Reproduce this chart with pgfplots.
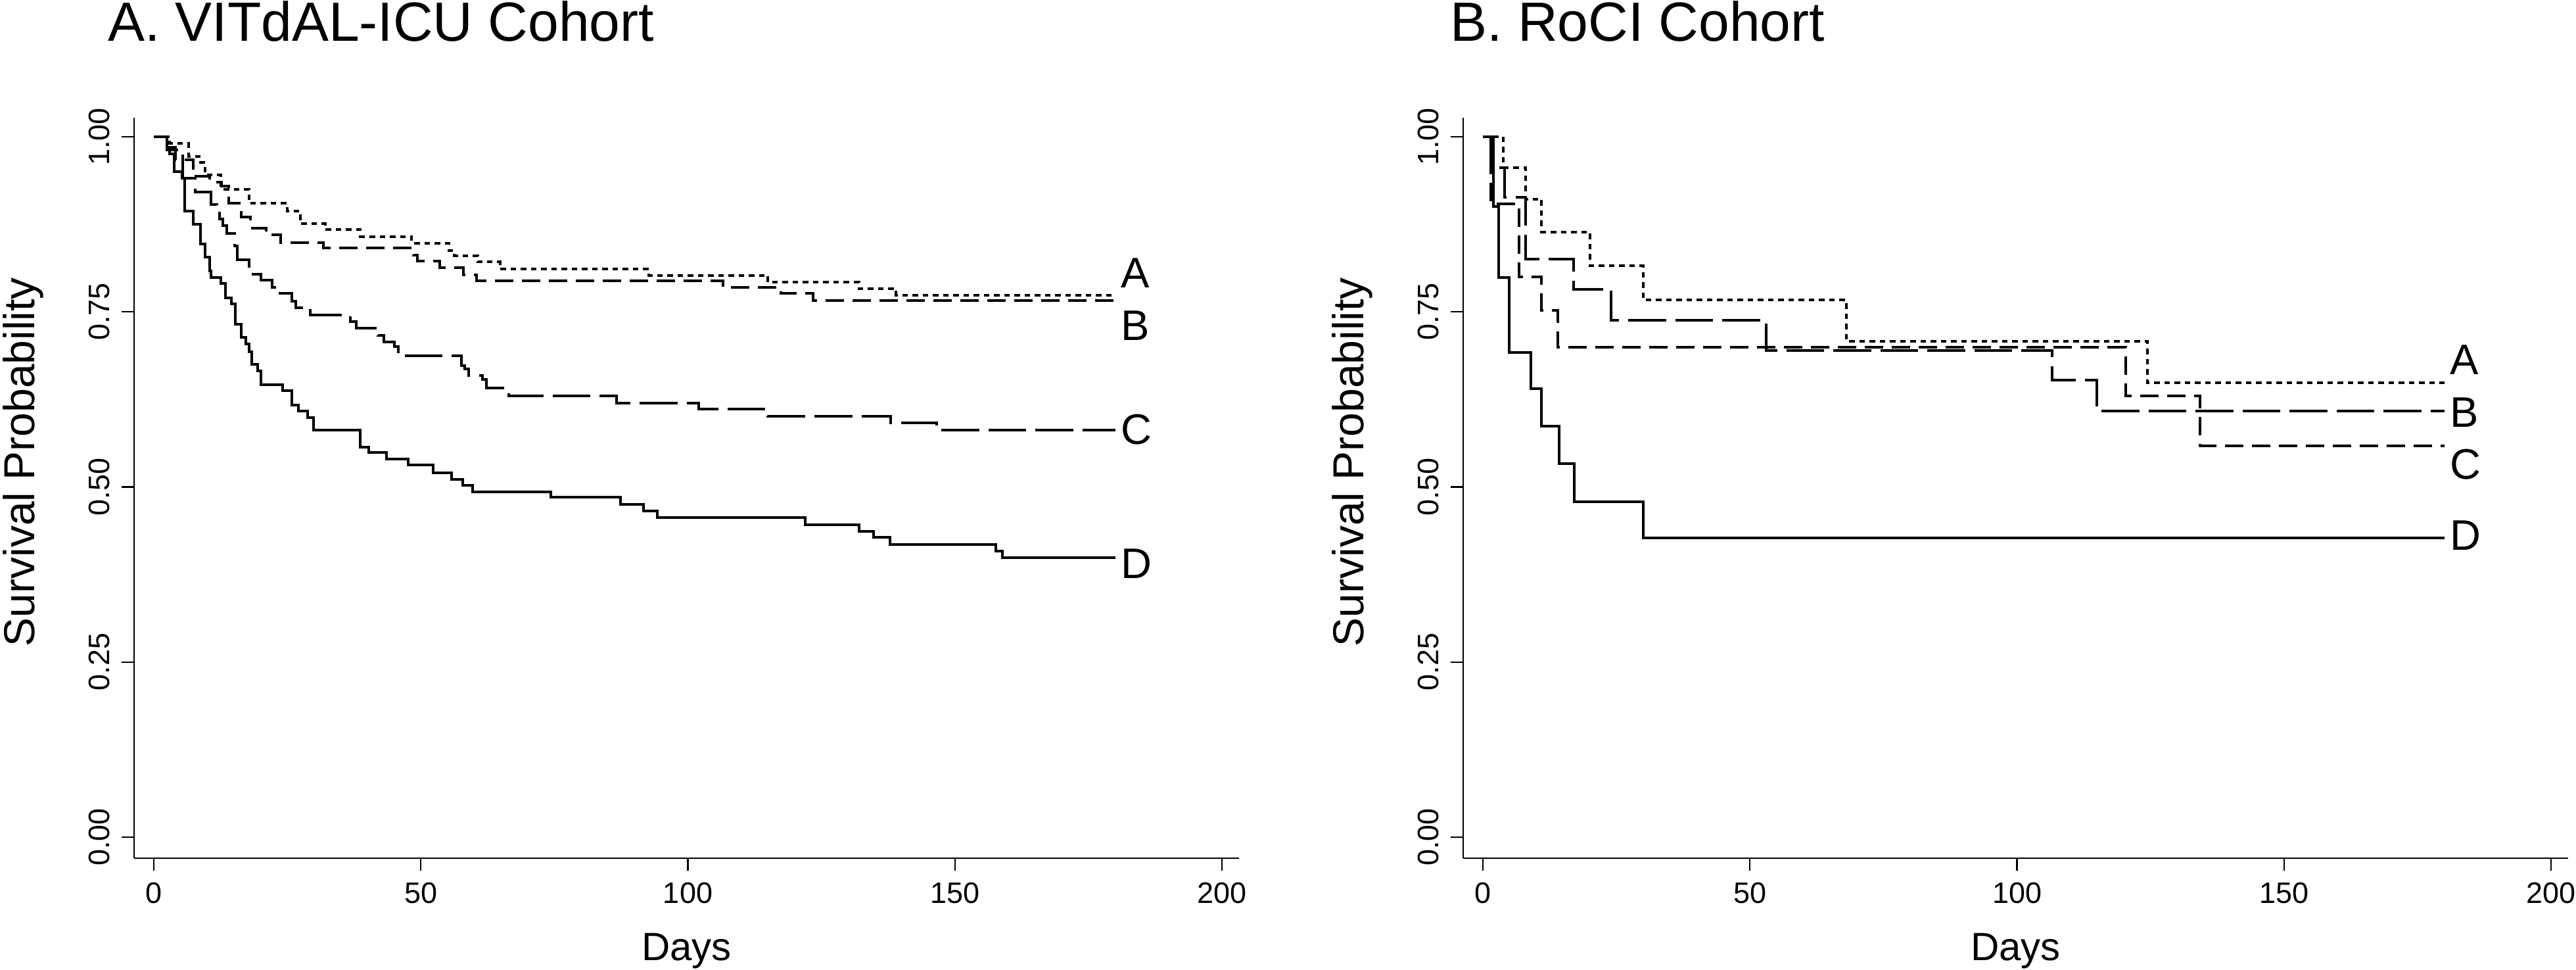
\documentclass[border=0pt]{standalone}
\usepackage{fontspec}
\setmainfont{Liberation Sans}
\usepackage{pgfplots}
\pgfplotsset{compat=1.18}

\tikzset{
  lab/.style={anchor=west, inner sep=1.5pt, font=\fontsize{13}{13}\selectfont},
  shortd/.style={dash pattern=on 1.7pt off 1.4pt},
  medd/.style={dash pattern=on 5.6pt off 2.6pt},
  longd/.style={dash pattern=on 11.5pt off 2.8pt},
}
\pgfplotsset{
  kmaxis/.style={
    scale only axis, width=336.2pt, height=225.2pt,
    xmin=-3.7, xmax=203.2, ymin=-0.030, ymax=1.027,
    axis x line*=bottom, axis y line*=left,
    axis line style={-, line width=0.5pt, black},
    xtick={0,50,100,150,200}, ytick={0,0.25,0.5,0.75,1},
    tick pos=left, tick align=outside, major tick length=3.8pt,
    tick style={line width=0.45pt, black},
    /pgf/number format/assume math mode=true,
    tick label style={font=\fontsize{9}{9}\selectfont},
    yticklabel style={rotate=90, anchor=south, /pgf/number format/.cd, fixed, fixed zerofill, precision=2},
    xticklabel style={/pgf/number format/.cd, fixed},
    xlabel={Days}, ylabel={Survival Probability},
    every axis x label/.style={at={(axis description cs:0.5,-0.1377)}, anchor=base, font=\fontsize{12}{12}\selectfont},
    every axis y label/.style={at={(axis description cs:-0.0904,0.535)}, rotate=90, anchor=base, font=\fontsize{13.2}{13.2}\selectfont},
    clip=false,
  },
  curve/.style={const plot, line width=0.8pt, black, no marks},
}

\begin{document}
\begin{tikzpicture}
\path[use as bounding box] (-40.8pt,-33.8pt) rectangle (743pt,261pt);

% Panel A
\begin{axis}[kmaxis, at={(0pt,0pt)}]
% A
\addplot[curve, shortd] coordinates {
(0,1) (3,0.99) (6.5,0.972) (8.5,0.963) (9.6,0.945) (12.6,0.925) (17.8,0.905)
(25,0.894) (27.4,0.876) (32.1,0.867) (38.7,0.857) (48.3,0.848) (55.2,0.837)
(56.3,0.830) (60.7,0.821) (64.8,0.811) (92.7,0.802) (115,0.792) (132,0.783)
(139,0.774) (180,0.774)};
% B
\addplot[curve, medd] coordinates {
(0,1) (2.5,0.985) (4,0.967) (7.4,0.943) (10.5,0.935) (12.7,0.929) (14,0.905)
(16.4,0.885) (18.1,0.869) (21,0.860) (23.8,0.849) (31.8,0.841) (48.6,0.831)
(49.4,0.822) (53.5,0.813) (58,0.803) (60.4,0.794) (106.6,0.785) (117.4,0.776)
(123.5,0.766) (180,0.766)};
% C
\addplot[curve, longd] coordinates {
(0,1) (2.5,0.981) (5.4,0.941) (7.8,0.921) (10.7,0.903) (11.8,0.894) (12.3,0.882)
(12.9,0.873) (13.7,0.862) (15.1,0.844) (15.6,0.824) (17.8,0.813) (18.3,0.804)
(20,0.795) (22.2,0.785) (23,0.776) (25.8,0.765) (26.6,0.756) (29.3,0.745)
(36.8,0.736) (37.9,0.727) (42,0.716) (43.1,0.707) (45,0.700) (45.8,0.687)
(57.6,0.673) (58.2,0.668) (59,0.659) (61.5,0.653) (62.3,0.641) (66.4,0.630)
(86.6,0.620) (102,0.611) (115,0.601) (138,0.591) (146.6,0.581) (180,0.581)};
% D
\addplot[curve] coordinates {
(0,1) (2.5,0.985) (3,0.975) (3.8,0.95) (5.3,0.941) (5.8,0.894) (7.4,0.875)
(8.7,0.847) (9.6,0.828) (10.4,0.808) (10.7,0.799) (12.6,0.790) (13.4,0.770)
(14.5,0.761) (15.3,0.732) (16.4,0.713) (17.2,0.704) (17.8,0.693) (18.3,0.675)
(19.4,0.666) (20,0.646) (24.1,0.637) (25.8,0.617) (27.1,0.608) (28.8,0.599)
(29.9,0.581) (38.7,0.557) (40.3,0.549) (43.6,0.540) (47.6,0.531) (52.3,0.520)
(55.8,0.511) (57.8,0.502) (59.7,0.493) (74.3,0.485) (87.4,0.475) (91.7,0.466)
(94.3,0.456) (122,0.446) (132,0.437) (134.8,0.428) (137.8,0.418) (157.7,0.408)
(158.9,0.399) (180,0.399)};
\node[lab] at (axis cs:180,0.805) {A};
\node[lab] at (axis cs:180,0.730) {B};
\node[lab] at (axis cs:180,0.582) {C};
\node[lab] at (axis cs:180,0.390) {D};
\end{axis}

% Panel B
\begin{axis}[kmaxis, at={(404.4pt,0pt)}]
% A
\addplot[curve, shortd] coordinates {
(0,1) (3.8,0.956) (8,0.911) (11,0.864) (20,0.816) (30,0.767) (68,0.708)
(124.4,0.649) (180,0.649)};
% B
\addplot[curve, longd] coordinates {
(0,1) (1.5,0.956) (4,0.913) (8,0.825) (17,0.782) (24,0.738) (53,0.695)
(106.6,0.652) (115,0.608) (180,0.608)};
% C
\addplot[curve, medd] coordinates {
(0,1) (1.5,0.904) (6.8,0.80) (11,0.752) (14,0.699) (120.4,0.63)
(134.3,0.559) (180,0.559)};
% D
\addplot[curve] coordinates {
(0,1) (1.9,0.90) (2.9,0.799) (4.9,0.692) (9,0.64) (11,0.587) (14.3,0.533)
(17.1,0.479) (30,0.427) (180,0.427)};
\node[lab] at (axis cs:180,0.681) {A};
\node[lab] at (axis cs:180,0.606) {B};
\node[lab] at (axis cs:180,0.532) {C};
\node[lab] at (axis cs:180,0.431) {D};
\end{axis}

\node[anchor=base west, inner sep=0, font=\fontsize{16.8}{16.8}\selectfont] at (-8.2pt,248.4pt) {A. VITdAL-ICU Cohort};
\node[anchor=base west, inner sep=0, font=\fontsize{16.8}{16.8}\selectfont] at (400.3pt,248.4pt) {B. RoCI Cohort};
\end{tikzpicture}
\end{document}
